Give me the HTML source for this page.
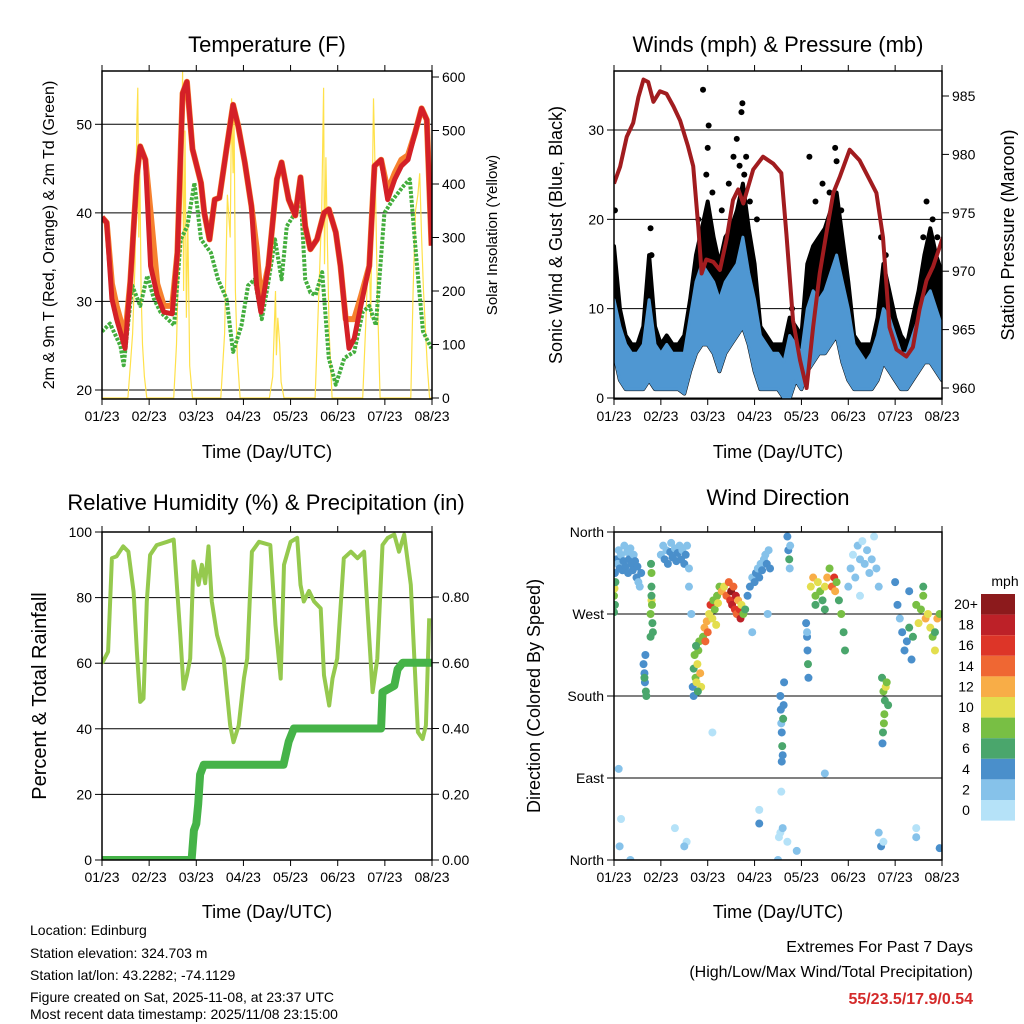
<!DOCTYPE html>
<html><head><meta charset="utf-8"><style>
html,body{margin:0;padding:0;background:#fff;}
svg{display:block;font-family:"Liberation Sans",sans-serif;}
</style></head><body>
<svg id="chart" width="1024" height="1024" viewBox="0 0 1024 1024" xmlns="http://www.w3.org/2000/svg">
<defs>
<clipPath id="c1"><rect x="102" y="71" width="330" height="328"/></clipPath>
<clipPath id="c2"><rect x="614" y="71" width="328" height="328"/></clipPath>
<clipPath id="c3"><rect x="102" y="532" width="330" height="328"/></clipPath>
<clipPath id="c4"><rect x="614" y="532" width="328" height="328"/></clipPath>
</defs>
<g id="p1"></g>
<g id="p2"></g>
<g id="p3"></g>
<g id="p4"></g>
<g font-size="22" text-anchor="middle" fill="#000">
<text x="267" y="52">Temperature (F)</text>
<text x="778" y="52">Winds (mph) &amp; Pressure (mb)</text>
<text x="266" y="510">Relative Humidity (%) &amp; Precipitation (in)</text>
<text x="778" y="505">Wind Direction</text>
</g>
<g font-size="18" text-anchor="middle">
<text x="267" y="458">Time (Day/UTC)</text>
<text x="778" y="458">Time (Day/UTC)</text>
<text x="267" y="918">Time (Day/UTC)</text>
<text x="778" y="918">Time (Day/UTC)</text>
<text transform="translate(54,235) rotate(-90)" font-size="16">2m &amp; 9m T (Red, Orange) &amp; 2m Td (Green)</text>
<text transform="translate(497,235) rotate(-90)" font-size="15">Solar Insolation (Yellow)</text>
<text transform="translate(562,235) rotate(-90)">Sonic Wind &amp; Gust (Blue, Black)</text>
<text transform="translate(1014,235) rotate(-90)">Station Pressure (Maroon)</text>
<text transform="translate(46,696) rotate(-90)" font-size="20">Percent &amp; Total Rainfall</text>
<text transform="translate(540,696) rotate(-90)">Direction (Colored By Speed)</text>
</g>
<g font-size="14">
<text x="30" y="935">Location: Edinburg</text>
<text x="30" y="958">Station elevation: 324.703 m</text>
<text x="30" y="980">Station lat/lon: 43.2282; -74.1129</text>
<text x="30" y="1002">Figure created on Sat, 2025-11-08, at 23:37 UTC</text>
<text x="30" y="1024" dy="-5">Most recent data timestamp: 2025/11/08 23:15:00</text>
</g>
<g font-size="16" text-anchor="end">
<text x="973" y="952">Extremes For Past 7 Days</text>
<text x="973" y="977">(High/Low/Max Wind/Total Precipitation)</text>
<text x="973" y="1004" fill="#d42a2a" font-weight="bold">55/23.5/17.9/0.54</text>
</g>
</svg>
<script>
// ---- data ----
const dayLabels=["01/23","02/23","03/23","04/23","05/23","06/23","07/23","08/23"];
const tempTicks=[20,30,40,50];
const solarTicks=[0,100,200,300,400,500,600];
const windTicks=[0,10,20,30];
const presTicks=[960,965,970,975,980,985];
const rhTicks=[0,20,40,60,80,100];
const rainTicks=[0,0.2,0.4,0.6,0.8];
const rainTickLabels=["0.00","0.20","0.40","0.60","0.80"];
const dirTicks=[0,90,180,270,360];
const dirLabels=["North","East","South","West","North"];

const tempT=[0,0.1,0.21,0.31,0.49,0.6,0.74,0.81,0.92,1.03,1.17,1.31,1.49,1.6,1.71,1.8,1.92,2.1,2.17,2.28,2.39,2.49,2.64,2.78,2.89,3.03,3.17,3.28,3.37,3.53,3.71,3.81,3.96,4.1,4.21,4.31,4.42,4.56,4.71,4.81,4.96,5.06,5.17,5.24,5.35,5.49,5.67,5.78,5.92,6.06,6.21,6.35,6.49,6.64,6.78,6.89,6.99];
const temp9m=[39.5,38.9,30.3,28,24.7,32.2,44.2,47.5,46,34,30.7,28.8,28.6,35.5,53.5,54.8,47.2,43.4,40,37,41.5,41.7,47.2,52.2,49.8,45.7,40.8,31.8,28.8,34,43.8,45.7,41.5,39.7,44,38.5,35.9,37,40,40.4,37.8,34,28,24.7,25.8,29.5,34,45.3,46,41.5,43.8,45.3,46,49,51.8,50.5,36.3];
const temp2m=[39.5,38.9,32,29.5,26,32.2,44.2,47.5,46,40,32,29.5,29.5,35.5,53.5,54.8,47.2,43.4,40,37,41.5,41.7,47.2,52.2,49.8,45.7,40.8,36,30,34,43.8,45.7,41.5,39.7,44,38.5,35.9,37,40,40.4,37.8,34,28,28,28,30.5,34,45.3,46,42.5,44.5,46,46.5,49,51.8,50.5,36.3];
const dewT=[0,0.17,0.39,0.46,0.64,0.81,0.96,1.1,1.24,1.53,1.67,1.81,1.96,2.1,2.31,2.46,2.64,2.78,2.96,3.1,3.24,3.39,3.53,3.67,3.81,3.92,4.1,4.21,4.31,4.42,4.53,4.67,4.81,4.96,5.14,5.35,5.53,5.67,5.81,5.99,6.17,6.39,6.53,6.67,6.81,6.99];
const dewV=[26.6,27.5,25,22.8,31.8,29.5,32.9,30.3,28.8,27.3,37,38.5,43.4,37,35.5,32.5,30.3,24.3,27.3,31.8,32.5,28,32.2,37,32.5,38.5,40,42.3,32.5,31,30.7,33.3,23.6,20.6,23.6,24.3,28.8,29.5,27.3,40,41.5,43,43.8,34.8,26.6,24.7];
const solarT=[0,0.55,0.6,0.65,0.7,0.74,0.76,0.78,0.8,0.83,0.86,0.9,0.95,1.52,1.58,1.64,1.68,1.71,1.73,1.76,1.79,1.82,1.86,1.92,2.52,2.6,2.66,2.72,2.75,2.78,2.8,2.83,2.87,2.93,3.55,3.62,3.68,3.7,3.73,3.77,3.8,3.86,4.52,4.6,4.66,4.7,4.72,4.75,4.78,4.82,4.88,5.53,5.6,5.66,5.7,5.76,5.8,5.84,5.9,6.55,6.6,6.65,6.7,6.74,6.78,6.82,6.9,6.95,7];
const solarV=[0,0,60,120,250,520,580,300,450,200,100,40,0,0,100,300,420,610,200,500,150,330,60,0,0,120,380,300,560,420,540,200,80,0,0,40,200,80,150,100,30,0,0,200,350,580,250,450,300,120,0,0,150,300,150,560,400,200,0,0,200,350,380,420,300,200,60,0,0];

const presT=[0,0.13,0.27,0.41,0.52,0.63,0.73,0.84,0.98,1.12,1.27,1.41,1.58,1.69,1.8,1.87,1.97,2.12,2.26,2.4,2.54,2.65,2.76,2.97,3.18,3.4,3.57,3.68,3.82,3.97,4.11,4.25,4.39,4.53,4.68,4.82,5.03,5.24,5.46,5.6,5.74,5.88,6.03,6.24,6.38,6.52,6.67,6.81,7.02];
const presV=[977.5,978.95,981.5,982.7,984.9,986.4,986.2,984.5,985.4,985.2,984.1,982.9,980.7,979,973.8,969.8,971,970.8,970.1,972.7,976.1,977,975.8,978.7,979.8,979.2,978.4,973.2,965.8,962.4,960,965.2,969.8,973.2,976.7,978.1,980.4,979.5,977.8,976.7,972.9,965.2,963.3,962.7,963.5,966.7,969.2,970.4,972.9];
const windT=[0,0.125,0.25,0.375,0.5,0.625,0.75,0.875,1,1.125,1.25,1.375,1.5,1.625,1.75,1.875,2,2.125,2.25,2.375,2.5,2.625,2.75,2.875,3,3.125,3.25,3.375,3.5,3.625,3.75,3.875,4,4.125,4.25,4.375,4.5,4.625,4.75,4.875,5,5.125,5.25,5.375,5.5,5.625,5.75,5.875,6,6.125,6.25,6.375,6.5,6.625,6.75,6.875,7];
const windLo=[5,2,1,1,1,1,2,1,1,1,1,1,0.5,3,5,6,6,5,3,5,6,7,8,6,3,1,1,1,1,0,0,2,1,3,4,5,5,6,7,4,2,1,1,1,1,2,4,3,2,1,1,2,3,4,4,3,2];
const windHi=[11,8,6,5,5,6,11,6,5,6,5,5,5,9,13,15,14,13,11,13,14,15,18,14,11,7,6,5,5,4,7,6,5,10,12,11,12,14,16,13,10,6,5,4,5,7,10,9,7,5,5,7,9,11,12,10,8];
const gustHi=[17,10,7,6,6,8,16,8,6,7,6,6,7,11,16,19,22,18,15,18,19,21,24,19,15,8,7,6,6,6,9,8,7,15,17,18,19,21,23,18,13,7,6,6,6,9,15,12,9,7,6,9,12,16,19,16,14];
const gustPeakT=[1.9,2.02,2.0,2.55,2.74,2.72,2.62,4.17,4.75,4.72,6.67,0.02,1.97,2.82,2.1,2.3,2.45,2.68,2.78,2.9,4.3,4.45,4.6,4.85,5.7,5.8,6.6,6.8,6.9,0.78,0.8,1.8,3.05,3.8];
const gustPeakV=[34.5,30.5,28,27,33,32,29,27,26.5,28,22,21,25,27,23,21,24,26,25,22,22,24,23,21,18,16,18,20,18,19,16,20,20,10];

const rhT=[0,0.13,0.21,0.31,0.45,0.56,0.67,0.74,0.81,0.88,0.95,1.02,1.16,1.38,1.52,1.66,1.73,1.8,1.87,1.94,2.05,2.12,2.19,2.26,2.33,2.44,2.58,2.72,2.79,2.9,3.01,3.08,3.18,3.33,3.57,3.68,3.79,3.86,4,4.14,4.21,4.28,4.39,4.5,4.64,4.71,4.82,4.89,4.99,5.13,5.28,5.42,5.56,5.63,5.74,5.84,5.95,6.06,6.2,6.3,6.41,6.55,6.7,6.8,6.87,6.94];
const rhV=[59.9,63.5,92,92.6,95.6,94,81.8,63.5,48.2,49.2,78.8,93,96,97,97.7,68.6,52.2,56.3,61.4,91,83.9,90,84.4,95.6,78.8,68.6,61.4,41,35.9,41,55.3,61.4,94,97,96,71.6,55.3,90,97,98.2,83.9,78.8,82,78.8,76.7,56.3,47.1,55.3,61.4,92,94,92,94,76.7,51.2,61.4,96,98.2,99.2,94,99.2,83.9,39,36.9,41,73.7];
const rainT=[0,1.9,1.95,2.0,2.04,2.08,2.16,3.85,3.96,4.07,5.92,5.95,6.2,6.27,6.38,7.0];
const rainV=[0,0,0.09,0.11,0.17,0.26,0.29,0.29,0.36,0.40,0.40,0.51,0.53,0.58,0.60,0.60];

const dirT=[0.02,0.05,0.08,0.1,0.12,0.15,0.18,0.2,0.22,0.25,0.28,0.3,0.32,0.35,0.38,0.4,0.42,0.45,0.48,0.5,0.52,0.55,0.58,0.0,0.01,0.02,0.0,0.03,
0.78,0.8,0.8,0.82,0.79,0.81,0.83,0.78,0.8,0.8,0.63,0.65,0.66,0.68,0.67,0.65,0.69,
1.0,1.05,1.08,1.12,1.15,1.2,1.22,1.25,1.3,1.33,1.36,1.4,1.43,1.46,1.5,1.53,1.56,1.6,1.6,1.65,
1.68,1.7,1.72,1.74,1.76,1.78,1.8,1.82,1.84,1.86,1.7,1.75,1.79,
1.9,1.93,1.95,1.98,2.0,2.03,2.06,2.1,2.12,2.15,2.2,2.22,2.25,2.18,
2.3,2.35,2.4,2.45,2.48,2.5,2.52,2.55,2.58,2.6,2.62,2.65,2.68,2.7,2.72,2.76,2.8,
2.85,2.9,2.95,3.0,3.03,3.07,3.1,3.13,3.16,3.2,3.23,3.26,3.3,3.33,3.28,2.95,
3.55,3.56,3.57,3.58,3.59,3.6,3.62,3.63,3.61,3.58,3.7,3.72,3.74,3.75,3.76,
4.1,4.12,4.13,4.14,4.15,4.12,
4.2,4.25,4.3,4.35,4.4,4.45,4.5,4.55,4.6,4.65,4.7,4.72,4.75,4.8,4.85,4.5,4.3,4.9,4.93,
5.0,5.05,5.1,5.15,5.2,5.25,5.3,5.35,5.4,5.45,5.5,5.55,5.6,5.65,5.25,
5.72,5.75,5.78,5.8,5.82,5.77,5.74,5.76,5.85,5.73,
6.0,6.05,6.1,6.15,6.2,6.25,6.3,6.35,6.38,6.3,
6.45,6.5,6.55,6.6,6.65,6.7,6.75,6.8,6.85,6.9,6.95,6.6,6.85,
0.1,0.15,0.12,0.35,1.3,1.55,1.5,2.1,3.1,3.1,3.55,3.6,3.7,3.5,3.9,4.5,5.7,5.65,5.75,6.45,6.45,6.95,3.57,3.52];
const dirDeg=[315,330,325,340,320,335,318,328,345,322,338,315,330,342,325,318,335,328,310,322,305,300,315,290,298,280,272,305,
270,285,300,260,325,280,250,245,315,290,215,205,195,185,225,200,180,
335,345,330,340,325,338,348,332,342,328,337,345,330,340,325,335,345,320,300,270,
190,210,225,200,195,215,230,240,205,190,180,235,185,
245,255,240,262,250,270,280,265,285,275,290,282,300,258,
295,300,290,305,285,295,280,300,275,290,270,285,275,265,280,270,275,
290,300,310,305,315,320,310,325,318,330,335,325,340,320,270,250,
180,165,150,140,125,115,170,195,155,108,355,340,330,320,345,
260,245,230,215,200,250,
300,310,290,305,295,285,300,310,320,300,310,295,305,285,270,275,280,250,230,
300,320,335,310,345,330,350,325,340,315,330,355,320,300,290,
200,185,175,190,195,160,140,150,170,128,
305,280,265,250,230,240,255,220,245,295,
280,260,275,290,265,270,255,245,230,265,270,300,250,
100,45,15,0,35,20,15,140,40,55,30,35,20,0,10,95,15,30,20,25,35,13,75,25];
const dirSpd=[4,4,3,2,4,3,4,4,2,4,3,4,4,2,4,4,3,4,4,4,3,2,4,8,10,6,7,6,
8,10,7,6,6,9,7,6,8,7,4,4,5,6,4,6,6,
2,2,4,3,4,4,2,4,3,4,4,2,4,3,4,4,2,3,2,2,
4,6,8,8,10,11,9,8,12,10,5,7,7,
8,12,14,12,15,10,16,10,9,8,9,10,8,11,
12,10,14,15,16,20,18,14,17,19,14,12,16,18,10,8,6,
4,4,3,4,4,2,4,3,4,3,2,4,3,4,2,2,
4,4,2,4,6,4,5,4,6,4,4,4,6,3,2,
4,4,4,6,4,3,
10,12,8,10,9,7,10,12,8,14,16,12,9,7,8,7,6,7,6,
2,2,1,2,2,3,1,2,2,3,2,1,2,3,1,
6,8,6,10,9,8,6,9,6,4,
4,4,2,4,4,4,6,4,6,4,
8,10,9,8,12,10,11,8,10,12,9,6,7,
2,1,2,3,1,1,2,1,4,0,1,2,1,2,3,3,4,2,1,2,1,4,0,0];
const speedBins=["0","2","4","6","8","10","12","14","16","18","20+"];
const speedColors=["#b5e2f8","#86c2ea","#4a8fcb","#4aa66c","#78bf44","#e3de4e","#f8ad47","#ef6733","#dd3528","#bd2128","#8c1a1c"];

// ---- helpers ----
const NS="http://www.w3.org/2000/svg";
function mk(parent,tag,attrs){const e=document.createElementNS(NS,tag);for(const k in attrs)e.setAttribute(k,attrs[k]);parent.appendChild(e);return e;}
function lin(d0,d1,r0,r1){return v=>r0+(v-d0)*(r1-r0)/(d1-d0);}
function pathOf(ts,vs,xs,ys){return ts.map((t,i)=>(i?"L":"M")+xs(t).toFixed(1)+","+ys(vs[i]).toFixed(1)).join("");}

function frame(g,x0,y0,w,h,xs){
  const ax=mk(g,"rect",{x:x0,y:y0,width:w,height:h,fill:"none",stroke:"#000","stroke-width":1.5});
  
  
  dayLabels.forEach((l,i)=>{
    const x=xs(i);
    mk(g,"line",{x1:x,x2:x,y1:y0+h,y2:y0+h+6,stroke:"#000"});
    mk(g,"line",{x1:x,x2:x,y1:y0,y2:y0-6,stroke:"#000"});
    const t=mk(g,"text",{x:x,y:y0+h+22,"font-size":14,"text-anchor":"middle"});t.textContent=l;
    
    
  });
}
function yAxis(g,ticks,labels,ys,x0,x1,side,grid){
  ticks.forEach((v,i)=>{
    const y=ys(v);
    if(grid) mk(g,"line",{x1:x0,x2:x1,y1:y,y2:y,stroke:"#000","stroke-width":1});
    const xe=side==="l"?x0:x1, d=side==="l"?-7:7;
    mk(g,"line",{x1:xe,x2:xe+d,y1:y,y2:y,stroke:"#000"});
    const t=mk(g,"text",{x:xe+(side==="l"?-10:10),y:y+5,"font-size":14,"text-anchor":side==="l"?"end":"start"});
    t.textContent=labels[i];
    
    
  });
}

// ---- panel 1 temperature ----
(function(){
  const g=document.getElementById("p1");
  const xs=lin(0,7,102,432), ys=lin(20,50,390,124.3), ss=lin(0,600,398,77);
  yAxis(g,tempTicks,tempTicks.map(String),ys,102,432,"l",true);
  yAxis(g,solarTicks,solarTicks.map(String),ss,102,432,"r",false);
  const c=mk(g,"g",{"clip-path":"url(#c1)"});
  const sol=mk(c,"path",{d:pathOf(solarT,solarV,xs,ss),fill:"none",stroke:"#ffe14a","stroke-width":1.2});
  
  
  const dw=mk(c,"path",{d:pathOf(dewT,dewV,xs,ys),fill:"none",stroke:"#43ae3d","stroke-width":4,"stroke-dasharray":"3 1.5","stroke-linejoin":"round"});
  
  
  const o=mk(c,"path",{d:pathOf(tempT,temp2m,xs,ys),fill:"none",stroke:"#f6812e","stroke-width":6,"stroke-linejoin":"round"});
  
  
  const r=mk(c,"path",{d:pathOf(tempT,temp9m,xs,ys),fill:"none",stroke:"#d42027","stroke-width":5,"stroke-linejoin":"round"});
  
  
  frame(g,102,71,330,328,xs);
})();

// ---- panel 2 winds ----
(function(){
  const g=document.getElementById("p2");
  const xs=lin(0,7,614,942), ys=lin(0,30,398,130), ps=lin(960,985,388,96);
  yAxis(g,windTicks,windTicks.map(String),ys,614,942,"l",true);
  yAxis(g,presTicks,presTicks.map(String),ps,614,942,"r",false);
  const c=mk(g,"g",{"clip-path":"url(#c2)"});
  const up=windT.map((t,i)=>xs(t).toFixed(1)+","+ys(gustHi[i]).toFixed(1));
  const dn=windT.map((t,i)=>xs(t).toFixed(1)+","+ys(windLo[i]).toFixed(1)).reverse();
  const gb=mk(c,"polygon",{points:up.concat(dn).join(" "),fill:"#000",stroke:"#000","stroke-width":4,"stroke-linejoin":"round"});
  
  
  gustPeakT.forEach((t,i)=>{
    const d=mk(c,"circle",{cx:xs(t),cy:ys(gustPeakV[i]),r:3,fill:"#000"});
    
    
  });
  const up2=windT.map((t,i)=>xs(t).toFixed(1)+","+ys(windHi[i]).toFixed(1));
  const dn2=windT.map((t,i)=>xs(t).toFixed(1)+","+ys(windLo[i]).toFixed(1)).reverse();
  const wb=mk(c,"polygon",{points:up2.concat(dn2).join(" "),fill:"#4f97d2",stroke:"#4f97d2","stroke-width":3,"stroke-linejoin":"round"});
  
  
  const p=mk(c,"path",{d:pathOf(presT,presV,xs,ps),fill:"none",stroke:"#a11c1f","stroke-width":4,"stroke-linejoin":"round"});
  
  
  frame(g,614,71,328,328,xs);
})();

// ---- panel 3 humidity ----
(function(){
  const g=document.getElementById("p3");
  const xs=lin(0,7,102,432), ys=lin(0,100,860,532), rs=lin(0,0.8,860,597);
  yAxis(g,rhTicks,rhTicks.map(String),ys,102,432,"l",true);
  yAxis(g,rainTicks,rainTickLabels,rs,102,432,"r",false);
  const c=mk(g,"g",{"clip-path":"url(#c3)"});
  const h=mk(c,"path",{d:pathOf(rhT,rhV,xs,ys),fill:"none",stroke:"#95c94e","stroke-width":4,"stroke-linejoin":"round"});
  
  
  const r=mk(c,"path",{d:pathOf(rainT,rainV,xs,rs),fill:"none",stroke:"#45b348","stroke-width":8,"stroke-linejoin":"round","stroke-linecap":"round"});
  
  
  frame(g,102,532,330,328,xs);
})();

// ---- panel 4 wind direction ----
(function(){
  const g=document.getElementById("p4");
  const xs=lin(0,7,614,942), ys=lin(0,360,860,532);
  yAxis(g,dirTicks,dirLabels,ys,614,942,"l",true);
  const c=mk(g,"g",{"clip-path":"url(#c4)"});
  dirT.forEach((t,i)=>{
    const bin=Math.min(10,Math.floor(dirSpd[i]/2));
    const d=mk(c,"circle",{cx:xs(t),cy:ys(dirDeg[i]),r:4,fill:speedColors[bin]});
    
    
  });
  frame(g,614,532,328,328,xs);
  const lg=mk(g,"g",{});
  
  
  const mt=mk(lg,"text",{x:1005,y:586,"font-size":14,"text-anchor":"middle"});mt.textContent="mph";
  for(let k=10;k>=0;k--){
    const y=594+(10-k)*20.6;
    const b=mk(lg,"rect",{x:981,y:y,width:34,height:20.6,fill:speedColors[k]});
    
    
    const t=mk(lg,"text",{x:966,y:y+15,"font-size":14,"text-anchor":"middle"});t.textContent=speedBins[k];
  }
})();
</script>
</body></html>
